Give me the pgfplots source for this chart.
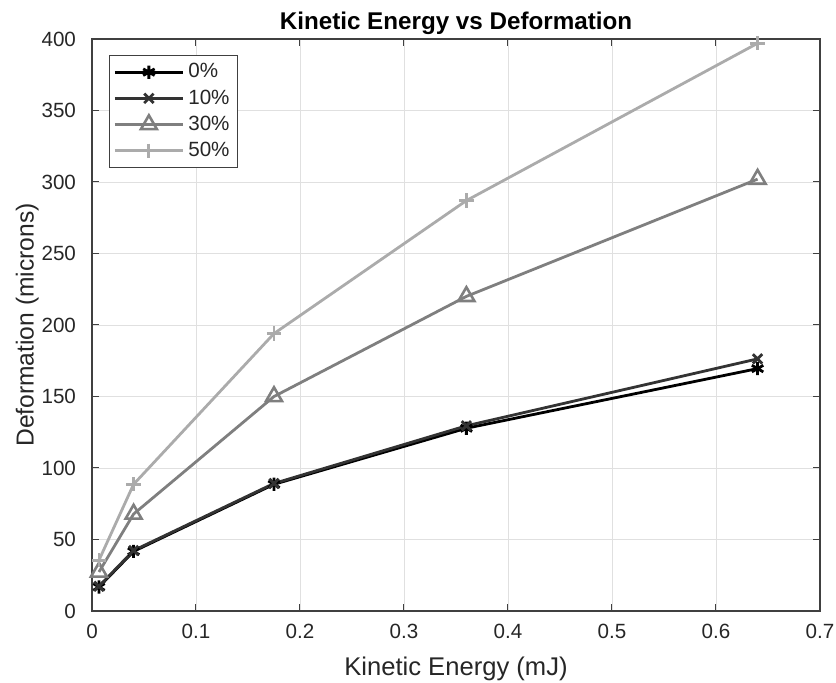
\documentclass[border=0pt]{standalone}
\usepackage{fontspec}
\setmainfont{Liberation Sans}
\usepackage{pgfplots}
\pgfplotsset{compat=1.18}
\definecolor{c0}{HTML}{000000}
\definecolor{c10}{HTML}{333333}
\definecolor{c30}{HTML}{7F7F7F}
\definecolor{c50}{HTML}{ABABAB}
\definecolor{axc}{HTML}{404040}
\begin{document}
\begin{tikzpicture}
\useasboundingbox (-46pt,-36pt) rectangle (372pt,305.5pt);
\begin{axis}[
  at={(0,0)}, anchor=origin,
  width=364pt, height=286pt, scale only axis,
  xmin=0, xmax=0.7, ymin=0, ymax=400,
  xtick={0,0.1,...,0.7}, ytick={0,50,...,400},
  xticklabels={0,0.1,0.2,0.3,0.4,0.5,0.6,0.7},
  /pgf/number format/assume math mode=true,
  tick label style={font=\fontsize{10.3}{11}\selectfont, text=black!85},
  xticklabel style={yshift=-3pt},
  yticklabel style={xshift=-4.5pt},
  xlabel style={font=\fontsize{12.8}{14}\selectfont, text=black!85, yshift=-2.5pt},
  ylabel style={font=\fontsize{12.3}{14}\selectfont, text=black!85, yshift=-5.5pt},
  title style={font=\fontsize{12.1}{13}\selectfont\bfseries, yshift=-7.5pt},
  title={Kinetic Energy vs Deformation},
  xlabel={Kinetic Energy (mJ)}, ylabel={Deformation (microns)},
  grid=major, major grid style={draw=black!12, line width=0.4pt},
  axis line style={draw=axc, line width=0.6pt},
  tick style={draw=axc, line width=0.5pt},
  tick align=inside, major tick length=3.5pt,
  xtick pos=both, ytick pos=both,
  legend style={at={(rel axis cs:0,1)}, anchor=north west, xshift=8.5pt, yshift=-8pt,
    draw=axc, line width=0.5pt, font=\fontsize{10.3}{11}\selectfont, text=black!85,
    row sep=0.4pt, inner sep=2pt},
  legend cell align=left,
  legend image code/.code={\draw[mark repeat=2,mark phase=2] plot coordinates {(0pt,0pt) (17pt,0pt) (34pt,0pt)};},
  every axis plot/.append style={line width=1.4pt},
]
\addplot[c0, mark=asterisk, mark size=3.3pt, mark options={solid,line width=1.4pt}] coordinates {
(0.0067,16.8) (0.04,41.7) (0.175,88.6) (0.36,127.8) (0.64,169.5)};
\addlegendentry{0\%}
\addplot[c10, mark=x, mark size=3.3pt, mark options={solid,line width=1.4pt}] coordinates {
(0.0067,17.3) (0.04,42.3) (0.175,89.2) (0.36,129.5) (0.64,176.3)};
\addlegendentry{10\%}
\addplot[c30, mark=triangle, mark size=4.6pt, mark options={solid,line width=1.3pt}] coordinates {
(0.0067,27.3) (0.04,67.8) (0.175,150) (0.36,220) (0.64,302)};
\addlegendentry{30\%}
\addplot[c50, mark=+, mark size=3.6pt, mark options={solid,line width=1.4pt}] coordinates {
(0.0067,35.5) (0.04,88.6) (0.175,194) (0.36,287) (0.64,397)};
\addlegendentry{50\%}
\end{axis}
\end{tikzpicture}
\end{document}
